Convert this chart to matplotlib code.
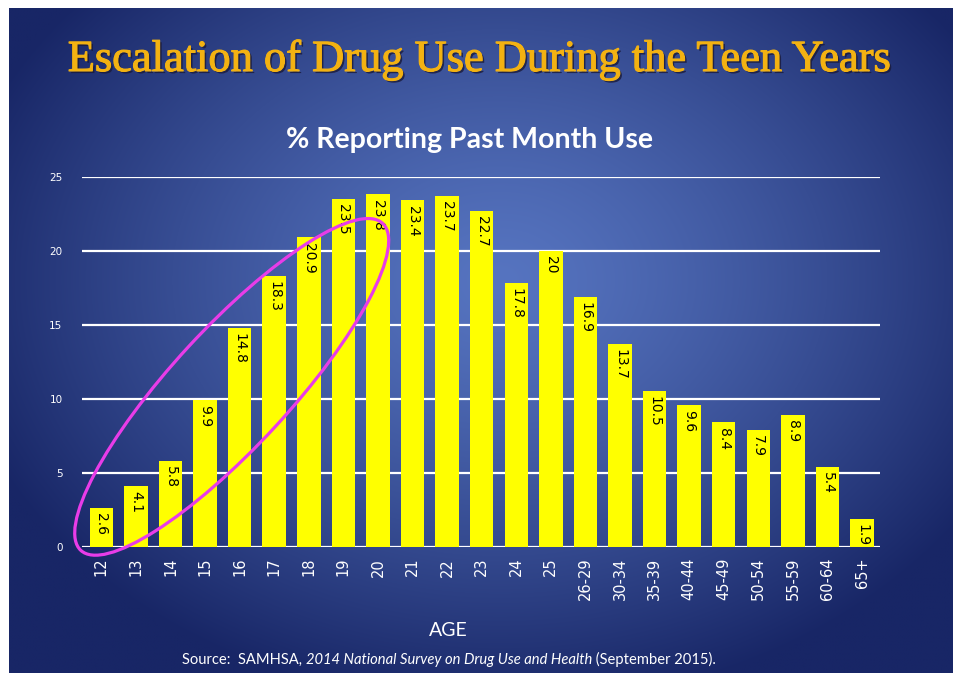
import numpy as np
import matplotlib
matplotlib.use("Agg")
import matplotlib.pyplot as plt
from matplotlib.patches import Ellipse
from matplotlib.transforms import IdentityTransform, ScaledTranslation
import matplotlib.patheffects as pe

ages = ["12", "13", "14", "15", "16", "17", "18", "19", "20", "21", "22", "23",
        "24", "25", "26-29", "30-34", "35-39", "40-44", "45-49", "50-54",
        "55-59", "60-64", "65+"]
pct = [2.6, 4.1, 5.8, 9.9, 14.8, 18.3, 20.9, 23.5, 23.8, 23.4, 23.7, 22.7,
       17.8, 20, 16.9, 13.7, 10.5, 9.6, 8.4, 7.9, 8.9, 5.4, 1.9]
pct_labels = ["2.6", "4.1", "5.8", "9.9", "14.8", "18.3", "20.9", "23.5", "23.8",
              "23.4", "23.7", "22.7", "17.8", "20", "16.9", "13.7", "10.5", "9.6",
              "8.4", "7.9", "8.9", "5.4", "1.9"]
yticks = [0, 5, 10, 15, 20, 25]

W, H = 956, 673
fig = plt.figure(figsize=(W / 100, H / 100), dpi=100)
fig.patch.set_facecolor("white")

# background gradient panel
bg = fig.add_axes([0, 0, 1, 1], zorder=-10)
bg.set_xlim(0, W)
bg.set_ylim(H, 0)
bg.axis("off")
gx, gy = np.meshgrid(np.linspace(9, 953, 300), np.linspace(8, 673, 220))
r = np.sqrt(((gx - 500) / 560) ** 2 + ((gy - 280) / 430) ** 2)
t = np.clip(r, 0, 1) ** 1.3
c0 = np.array([86, 116, 192]) / 255
c1 = np.array([24, 38, 102]) / 255
img = c0[None, None, :] * (1 - t[..., None]) + c1[None, None, :] * t[..., None]
bg.imshow(img, extent=(9, 953, 673, 8), aspect="auto", interpolation="bilinear")

ax = fig.add_axes([82 / W, 1 - 546.7 / H, (880 - 82) / W, (546.7 - 176.7) / H])
ax.patch.set_alpha(0)
x = np.arange(len(ages))
ax.bar(x, pct, width=0.68, color="#ffff00", zorder=3)
for xi, v, lab in zip(x, pct, pct_labels):
    ax.text(xi, v - 0.35, lab, rotation=-90, ha="center", va="top",
            fontsize=10, color="black", zorder=4)

ax.set_xlim(-0.56, 22.52)
ax.set_ylim(0, 25)
ax.set_yticks(yticks)
ax.set_yticklabels([str(v) for v in yticks], color="white", fontsize=7.5)
ax.set_xticks(x)
ax.set_xticklabels(ages, rotation=90, color="white", fontsize=10.5)
ax.tick_params(axis="both", length=0)
ax.tick_params(axis="y", pad=14)
ax.tick_params(axis="x", pad=8)
for s in ax.spines.values():
    s.set_visible(False)
ax.grid(axis="y", color="white", linewidth=1.6, zorder=1)
ax.set_axisbelow(True)

# highlight ellipse (display units)
ell = Ellipse((0, 0), width=445, height=118, angle=47.3, fill=False,
              edgecolor="#e83ce8", linewidth=2.3, zorder=6, clip_on=False,
              transform=IdentityTransform() + ScaledTranslation(3.77, 10.8, ax.transData))
ax.add_patch(ell)

fig.text(480 / W, 1 - 60 / H, "Escalation of Drug Use During the Teen Years",
         ha="center", va="center", fontsize=32, color="#f3b212",
         family="Liberation Serif",
         path_effects=[pe.withSimplePatchShadow(offset=(1.5, -1.5), shadow_rgbFace="#1a1a3a", alpha=0.8),
                       pe.Stroke(linewidth=0.8, foreground="#f3b212"),
                       pe.Normal()])
fig.text(470 / W, 1 - 140 / H, "% Reporting Past Month Use", ha="center", va="center",
         fontsize=20.5, fontweight="bold", color="white", family="Lato")
fig.text(448 / W, 1 - 630 / H, "AGE", ha="center", va="center",
         fontsize=14, color="white", family="Lato")

fs = 10.6
t1 = fig.text(182 / W, 1 - 660 / H, "Source:  SAMHSA, ", ha="left", va="center",
              fontsize=fs, color="white", family="Lato")
t2 = fig.text(0, 0, "2014 National Survey on Drug Use and Health", fontsize=fs,
              color="white", family="Lato", style="italic")
t3 = fig.text(0, 0, " (September 2015).", fontsize=fs, color="white", family="Lato")
fig.canvas.draw()
rr = fig.canvas.get_renderer()
bb1 = t1.get_window_extent(rr)
t2.set_position((bb1.x1 / W, bb1.y0 / H))
t2.set_va("bottom")
fig.canvas.draw()
bb2 = t2.get_window_extent(rr)
t3.set_position((bb2.x1 / W, bb1.y0 / H))
t3.set_va("bottom")

fig.savefig("out.png", dpi=100, facecolor=fig.get_facecolor())
